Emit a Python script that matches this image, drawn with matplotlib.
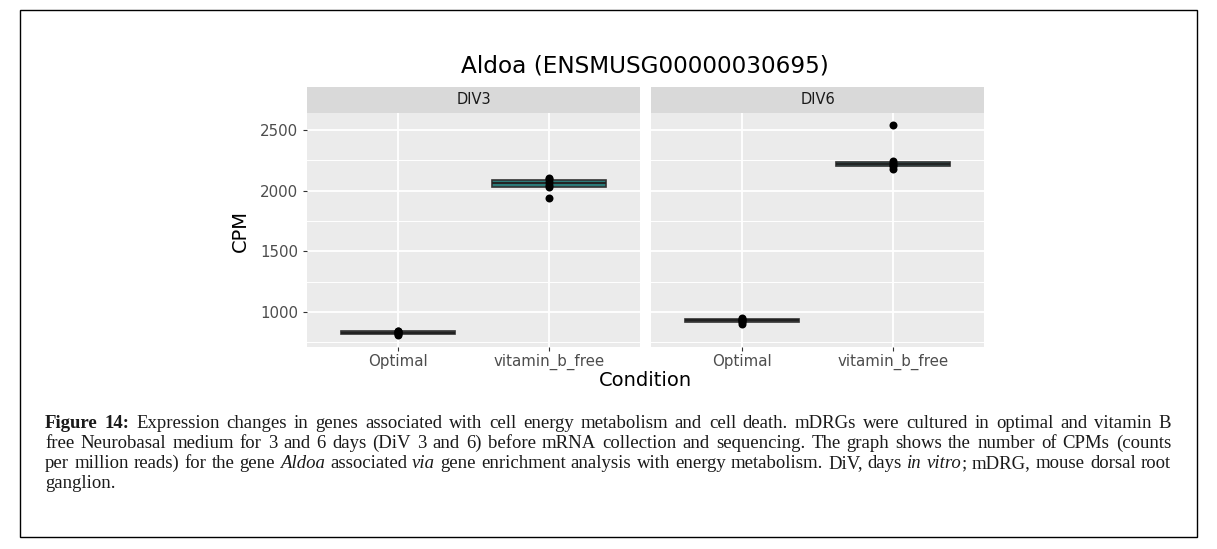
import numpy as np
import matplotlib
matplotlib.use("Agg")
import matplotlib.pyplot as plt
from matplotlib.patches import Rectangle

# CPM values (replicates per group)
panels = ["DIV3", "DIV6"]
conditions = ["Optimal", "vitamin_b_free"]
div3_optimal = [808, 818, 826, 832, 840, 846]
div3_vitb = [1940, 2030, 2045, 2075, 2095, 2108]
div6_optimal = [898, 915, 928, 935, 942, 948]
div6_vitb = [2180, 2200, 2215, 2228, 2242, 2545]
panel_data = {"DIV3": [div3_optimal, div3_vitb], "DIV6": [div6_optimal, div6_vitb]}

y_major = [1000, 1500, 2000, 2500]
y_minor = [750, 1250, 1750, 2250]

title = "Aldoa (ENSMUSG00000030695)"

# caption lines: '*' toggles bold, '_' toggles italics
caption_lines = [
    "*Figure* *14:* Expression changes in genes associated with cell energy metabolism and cell death. mDRGs were cultured in optimal and vitamin B",
    "free Neurobasal medium for 3 and 6 days (DiV 3 and 6) before mRNA collection and sequencing. The graph shows the number of CPMs (counts",
    "per million reads) for the gene _Aldoa_ associated _via_ gene enrichment analysis with energy metabolism. DiV, days _in_ _vitro_; mDRG, mouse dorsal root",
    "ganglion.",
]

W, H = 1217, 549
box_fills = ["#3a3a3a", "#2b7a78"]
panel_bg = "#EBEBEB"
strip_bg = "#D9D9D9"

fig = plt.figure(figsize=(W / 100, H / 100), dpi=100)


def fx(px):
    return px / W


def fy(py):
    return 1 - py / H


# outer frame
fig.patches.append(Rectangle((fx(20), fy(537)), fx(1177), 527 / H, transform=fig.transFigure,
                             fill=False, edgecolor="black", linewidth=1.0))

panel_left = [307, 651]
panel_w = 333
panel_top, panel_bot = 113, 347

for i, panel in enumerate(panels):
    ax = fig.add_axes([fx(panel_left[i]), fy(panel_bot), fx(panel_w), (panel_bot - panel_top) / H])
    ax.set_facecolor(panel_bg)
    for s in ax.spines.values():
        s.set_visible(False)
    data = panel_data[panel]
    bp = ax.boxplot(data, positions=[1, 2], widths=0.75, patch_artist=True, showfliers=False,
                    boxprops=dict(edgecolor="#333333", linewidth=1.2),
                    medianprops=dict(color="#222222", linewidth=1.4),
                    whiskerprops=dict(color="#333333", linewidth=1.0),
                    capprops=dict(linewidth=0), zorder=3)
    for patch, c in zip(bp["boxes"], box_fills):
        patch.set_facecolor(c)
    for x, vals in zip([1, 2], data):
        ax.scatter(np.full(len(vals), x), vals, s=33, color="black", zorder=5, linewidths=0)
    ax.set_xlim(0.4, 2.6)
    ax.set_ylim(710, 2640)
    ax.set_yticks(y_major)
    ax.set_yticks(y_minor, minor=True)
    ax.set_xticks([1, 2])
    ax.set_xticklabels(conditions)
    ax.grid(True, which="major", color="white", linewidth=1.3, zorder=0)
    ax.grid(True, which="minor", axis="y", color="white", linewidth=0.7, zorder=0)
    ax.set_axisbelow(True)
    ax.tick_params(axis="both", which="major", length=3, width=0.8, color="#333333",
                   labelcolor="#4D4D4D", labelsize=10.8)
    ax.tick_params(axis="y", which="minor", length=0)
    ax.tick_params(axis="x", pad=2)
    if i == 0:
        ax.set_yticklabels([str(v) for v in y_major])
    else:
        ax.tick_params(axis="y", which="both", length=0, labelleft=False)

    # facet strip
    sax = fig.add_axes([fx(panel_left[i]), fy(panel_top), fx(panel_w), 26 / H])
    sax.set_facecolor(strip_bg)
    sax.set_xticks([])
    sax.set_yticks([])
    for s in sax.spines.values():
        s.set_visible(False)
    sax.text(0.5, 0.5, panel, ha="center", va="center", fontsize=10.5, color="#1A1A1A",
             transform=sax.transAxes)

fig.text(fx(645), fy(66), title, ha="center", va="center", fontsize=16.7, color="black")
fig.text(fx(240), fy(231), "CPM", ha="center", va="center", rotation=90, fontsize=14, color="black")
fig.text(fx(645), fy(380), "Condition", ha="center", va="center", fontsize=14, color="black")


def parse_words(line):
    words = []
    for w in line.split(" "):
        frags = []
        style = "n"
        buf = ""
        for ch in w:
            if ch in "*_":
                if buf:
                    frags.append((buf, style))
                    buf = ""
                mark = "b" if ch == "*" else "i"
                style = mark if style != mark else "n"
                continue
            buf += ch
        if buf:
            frags.append((buf, style))
        words.append(frags)
    return words


# justified caption
renderer = fig.canvas.get_renderer()
cap_left, cap_right = 45, 1171
baselines = [428, 448, 468, 488]
style_kw = {"n": dict(), "b": dict(fontweight="bold"), "i": dict(fontstyle="italic")}
cap_font = dict(family="Liberation Serif", fontsize=13.5, color="#1A1A1A")

for li, line in enumerate(caption_lines):
    words = parse_words(line)
    texts = []
    widths = []
    for frags in words:
        ts = []
        wsum = 0
        for txt, st in frags:
            t = fig.text(0, fy(baselines[li]), txt, ha="left", va="baseline", **cap_font, **style_kw[st])
            w = t.get_window_extent(renderer).width
            ts.append((t, w))
            wsum += w
        texts.append(ts)
        widths.append(wsum)
    total = sum(widths)
    if li < len(caption_lines) - 1 and len(words) > 1:
        gap = (cap_right - cap_left - total) / (len(words) - 1)
    else:
        gap = 4
    x = cap_left
    for ts, w in zip(texts, widths):
        xx = x
        for t, tw in ts:
            t.set_x(fx(xx))
            xx += tw
        x += w + gap

fig.savefig("out.png", dpi=100)
